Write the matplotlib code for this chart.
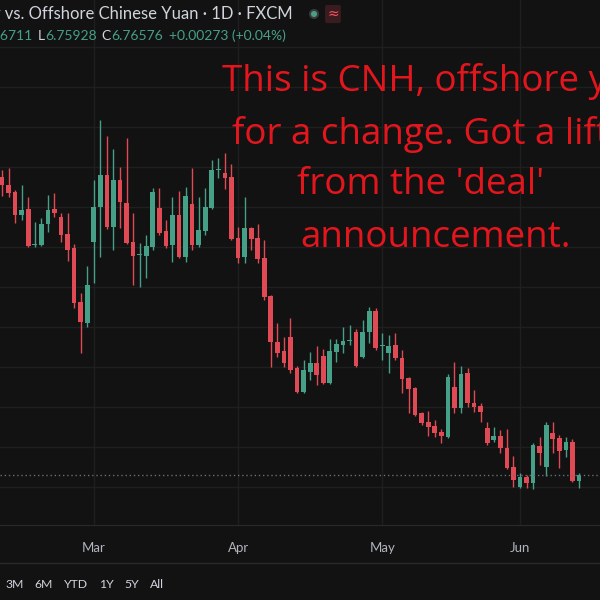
import matplotlib.pyplot as plt

# daily candles, USD/CNH
opens = [6.9150, 6.9110, 6.9075, 6.8960, 6.8990, 6.8810, 6.8810, 6.8915, 6.8990, 6.8950,
         6.8865, 6.8795, 6.8525, 6.8420, 6.8825, 6.9000, 6.9160, 6.8900, 6.9135, 6.9020,
         6.8825, 6.8760, 6.8755, 6.8800, 6.8995, 6.8880, 6.8810, 6.8960, 6.8750, 6.9015,
         6.8810, 6.8880, 6.8995, 6.9185, 6.9170, 6.9150, 6.8845, 6.8750, 6.8895, 6.8845,
         6.8745, 6.8555, 6.8325, 6.8280, 6.8350, 6.8195, 6.8075, 6.8175, 6.8220, 6.8255,
         6.8120, 6.8275, 6.8310, 6.8330, 6.8375, 6.8250, 6.8375, 6.8480, 6.8305, 6.8270,
         6.8310, 6.8245, 6.8145, 6.8095, 6.7970, 6.7925, 6.7905, 6.7875, 6.7850, 6.8100,
         6.7995, 6.8170, 6.8020, 6.8005, 6.7895, 6.7835, 6.7855, 6.7795, 6.7700, 6.7600,
         6.7650, 6.7620, 6.7805, 6.7700, 6.7870, 6.7845, 6.7785, 6.7825, 6.76303]
highs = [6.9185, 6.9195, 6.9085, 6.9110, 6.9050, 6.8925, 6.8945, 6.9060, 6.9070, 6.8970,
         6.8970, 6.8815, 6.8570, 6.8705, 6.9135, 6.9435, 6.9355, 6.9290, 6.9200, 6.9345,
         6.8970, 6.8820, 6.8860, 6.9095, 6.9095, 6.8935, 6.9050, 6.9080, 6.9100, 6.9195,
         6.9050, 6.9095, 6.9235, 6.9245, 6.9270, 6.9215, 6.8900, 6.9050, 6.8900, 6.8915,
         6.8835, 6.8560, 6.8420, 6.8350, 6.8445, 6.8205, 6.8235, 6.8275, 6.8305, 6.8290,
         6.8340, 6.8340, 6.8400, 6.8410, 6.8390, 6.8435, 6.8500, 6.8495, 6.8370, 6.8360,
         6.8370, 6.8285, 6.8150, 6.8100, 6.7975, 6.7980, 6.7935, 6.7890, 6.8165, 6.8225,
         6.8205, 6.8195, 6.8085, 6.8020, 6.7925, 6.7900, 6.7885, 6.7890, 6.7755, 6.7670,
         6.7660, 6.7820, 6.7850, 6.7925, 6.7925, 6.7860, 6.7850, 6.7840, 6.76711]
lows = [6.9055, 6.9050, 6.8920, 6.8935, 6.8800, 6.8800, 6.8805, 6.8875, 6.8950, 6.8825,
        6.8730, 6.8495, 6.8270, 6.8400, 6.8620, 6.8750, 6.8890, 6.8785, 6.8895, 6.8815,
        6.8610, 6.8600, 6.8645, 6.8785, 6.8860, 6.8795, 6.8725, 6.8745, 6.8725, 6.8785,
        6.8800, 6.8860, 6.8990, 6.9145, 6.9090, 6.8835, 6.8720, 6.8720, 6.8785, 6.8720,
        6.8535, 6.8200, 6.8250, 6.8200, 6.8170, 6.8070, 6.8070, 6.8135, 6.8110, 6.8115,
        6.8115, 6.8225, 6.8270, 6.8310, 6.8200, 6.8245, 6.8320, 6.8285, 6.8235, 6.8170,
        6.8235, 6.8070, 6.7970, 6.7955, 6.7910, 6.7855, 6.7850, 6.7820, 6.7845, 6.7970,
        6.7970, 6.8000, 6.7975, 6.7925, 6.7810, 6.7825, 6.7770, 6.7690, 6.7600, 6.7595,
        6.7595, 6.7590, 6.7710, 6.7655, 6.7770, 6.7695, 6.7750, 6.7625, 6.75928]
closes = [6.9110, 6.9070, 6.8960, 6.8985, 6.8805, 6.8815, 6.8915, 6.8985, 6.8970, 6.8860,
          6.8785, 6.8520, 6.8425, 6.8610, 6.9000, 6.9160, 6.8900, 6.9135, 6.9025, 6.8820,
          6.8755, 6.8765, 6.8805, 6.9075, 6.8870, 6.8805, 6.8960, 6.8750, 6.9055, 6.8810,
          6.8885, 6.9000, 6.9185, 6.9190, 6.9145, 6.8840, 6.8745, 6.8895, 6.8840, 6.8740,
          6.8550, 6.8325, 6.8270, 6.8220, 6.8185, 6.8075, 6.8185, 6.8220, 6.8160, 6.8120,
          6.8280, 6.8315, 6.8330, 6.8335, 6.8205, 6.8375, 6.8480, 6.8295, 6.8310, 6.8305,
          6.8245, 6.8140, 6.8090, 6.7960, 6.7920, 6.7900, 6.7870, 6.7855, 6.8150, 6.7995,
          6.8165, 6.8020, 6.8000, 6.7975, 6.7820, 6.7855, 6.7795, 6.7695, 6.7635, 6.7650,
          6.7620, 6.7810, 6.7770, 6.7910, 6.7840, 6.7780, 6.7825, 6.76303, 6.76576]

month_labels = ['Mar', 'Apr', 'May', 'Jun']
month_pos = [14, 36, 58, 79]
range_buttons = ['3M', '6M', 'YTD', '1Y', '5Y', 'All']
title = 'U.S. Dollar vs. Offshore Chinese Yuan · 1D · FXCM'
note_lines = ["This is CNH, offshore yuan", "for a change. Got a lift",
              "from the 'deal'", "announcement."]

BG = '#121212'
UP = '#46a088'
DOWN = '#e04a55'
TXT = '#d1d4dc'
UI_FONT = 'Lato'

fig = plt.figure(figsize=(6, 6), dpi=100, facecolor=BG)
ax = fig.add_axes([0, 75 / 600, 1, 525 / 600])
ax.set_facecolor(BG)

for i in range(len(opens)):
    o, h, l, c = opens[i], highs[i], lows[i], closes[i]
    col = UP if c >= o else DOWN
    ax.vlines(i, l, h, color=col, lw=1)
    ax.bar(i, max(abs(c - o), 0.0006), bottom=min(o, c), width=0.72, color=col, lw=0)

ax.axhline(closes[-1], color='#6a6d73', lw=1, ls=(0, (1, 2)))

ax.set_xlim(-0.3, 91.2)
ax.set_ylim(6.741, 7.0035)
ax.set_xticks(month_pos)
ax.set_xticklabels(month_labels, color='#b2b5be', fontsize=9.5, family=UI_FONT)
ax.set_yticks([6.76 + 0.02 * k for k in range(12)])
ax.tick_params(axis='x', length=0, pad=12)
ax.tick_params(axis='y', length=0, labelleft=False)
ax.grid(True, color='#1f1f1f', lw=1)
ax.set_axisbelow(True)
for s in ['top', 'left', 'right']:
    ax.spines[s].set_visible(False)
ax.spines['bottom'].set_color('#2a2a2a')

# separator between time scale and bottom toolbar
fig.add_artist(plt.Line2D([0, 1], [1 - 563 / 600] * 2, color='#2b2b2b', lw=1))

fig.canvas.draw()
rend = fig.canvas.get_renderer()


def put(x, y, s, **kw):
    t = fig.text(x / 600, 1 - y / 600, s, va='center', **kw)
    return t.get_window_extent(renderer=rend).x1


# title line, cut off on the left like the screenshot
fig.text(293 / 600, 1 - 14 / 600, title, ha='right', va='center', color=TXT,
         fontsize=12.0, family=UI_FONT)
fig.add_artist(plt.Circle((314 / 600, 1 - 14 / 600), 5 / 600, color='#3a3a3a', lw=0))
fig.add_artist(plt.Circle((314 / 600, 1 - 14 / 600), 3 / 600, color=UP, lw=0))
fig.text(333 / 600, 1 - 14 / 600, '≈', ha='center', va='center', color='#f7525f',
         fontsize=10, family='DejaVu Sans',
         bbox=dict(boxstyle='round,pad=0.15', fc='#3a1c20', ec='none'))

# OHLC legend
val_kw = dict(color=UP, fontsize=10.0, family=UI_FONT)
lab_kw = dict(color=TXT, fontsize=10.0, family=UI_FONT)
fig.text(33 / 600, 1 - 36 / 600, f'H{highs[-1]:.5f}', ha='right', va='center', **val_kw)
x = 38
x = put(x, 36, 'L', **lab_kw)
x = put(x, 36, f'{lows[-1]:.5f}', **val_kw) + 5
x = put(x, 36, 'C', **lab_kw)
x = put(x, 36, f'{closes[-1]:.5f}', **val_kw) + 6
chg = closes[-1] - closes[-2]
put(x, 36, f'{chg:+.5f} ({chg / closes[-2] * 100:+.2f}%)', **val_kw)

# red annotation
note_x = [222, 232, 297, 300]
note_y = [82, 134, 185, 238]
for s, nx, ny in zip(note_lines, note_x, note_y):
    put(nx, ny, s, color='#e3161d', fontsize=26.5, family='Open Sans')

# range buttons at the bottom
bx = 5
for b in range_buttons:
    bx = put(bx, 584, b, color=TXT, fontsize=8.8, family=UI_FONT) + 11

fig.savefig('out.png', dpi=100, facecolor=BG)
